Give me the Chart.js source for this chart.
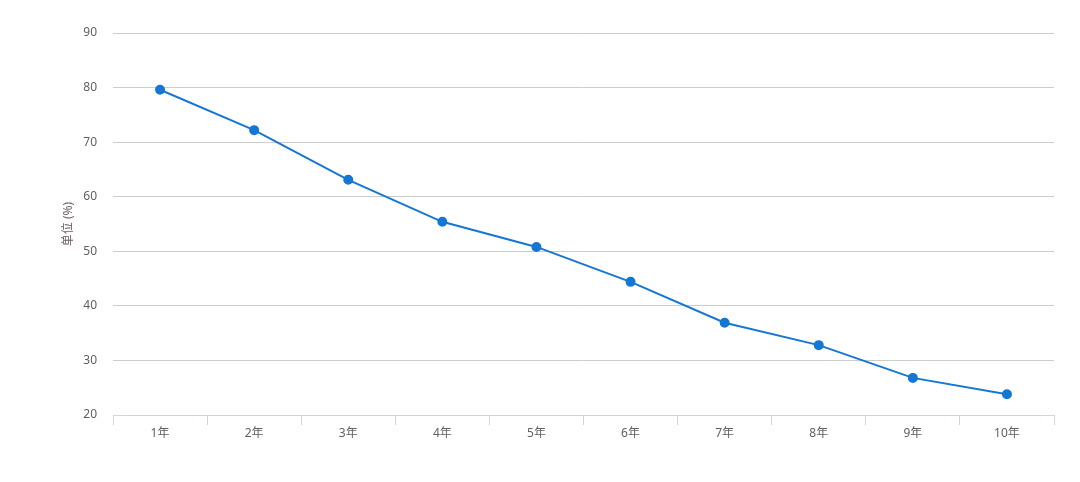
<!DOCTYPE html>
<html><head><meta charset="utf-8">
<script src="https://cdn.jsdelivr.net/npm/chart.js@4/dist/chart.umd.min.js"></script>
<style>html,body{margin:0;padding:0;background:#fff}#w{width:1080px;height:482px}</style>
</head><body><div id="w"><canvas id="c"></canvas></div>
<script>
const categories = ['1年','2年','3年','4年','5年','6年','7年','8年','9年','10年'];
const values = [79.6, 72.2, 63.1, 55.4, 50.8, 44.4, 36.9, 32.8, 26.8, 23.8];
const yMin = 20, yMax = 90, yStep = 10;
const yTitle = '单位 (%)';
const FONT = '"Noto Sans", "Noto Sans CJK SC", sans-serif';
new Chart(document.getElementById('c'), {
  type: 'line',
  data: { labels: categories, datasets: [{ data: values, borderColor: '#1577d3', backgroundColor: '#1577d3', borderWidth: 2, pointRadius: 4, pointHoverRadius: 4, tension: 0 }] },
  options: {
    responsive: true, maintainAspectRatio: false, animation: false,
    layout: { padding: { top: 33, right: 26, bottom: 0, left: 0 } },
    plugins: { legend: { display: false }, tooltip: { enabled: false } },
    scales: {
      x: {
        offset: true,
        grid: { display: true, offset: true, drawOnChartArea: false, drawTicks: true, tickLength: 10, color: '#ccd6eb', lineWidth: 1 },
        border: { display: true, color: '#ccd6eb', width: 1 },
        ticks: { color: '#606060', font: { family: FONT, size: 12 }, padding: 1, maxRotation: 0 },
        afterFit: s => { s.height = 67; }
      },
      y: {
        min: yMin, max: yMax,
        ticks: { stepSize: yStep, color: '#606060', font: { family: FONT, size: 12 }, padding: 16 },
        grid: { color: '#cccccc', drawTicks: false, lineWidth: 1 },
        border: { display: false },
        title: { display: true, text: yTitle, color: '#6e6060', font: { family: FONT, size: 12 }, padding: { top: 61, bottom: 0 } },
        afterFit: s => { s.width = 113; }
      }
    }
  }
});
</script></body></html>
